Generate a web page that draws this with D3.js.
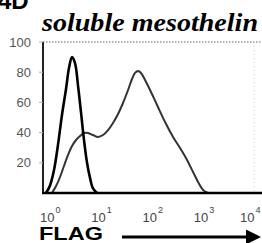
<!DOCTYPE html>
<html>
<head>
<meta charset="utf-8">
<script src="https://cdn.jsdelivr.net/npm/d3@7"></script>
<style>
  body { margin: 0; background: #fff; }
  svg { display: block; }
</style>
</head>
<body>
<div id="chart"></div>
<script>
// isotype control (black) - FL intensity and % of max
const isoX = [0.91, 1.09, 1.30, 1.56, 1.87, 2.24, 2.56, 2.93, 3.35, 3.84, 4.40, 5.02, 5.75, 6.58, 7.53, 9.02];
const isoY = [0, 5, 15, 32, 52, 69, 83, 90, 86, 71, 53, 35, 20, 10, 3, 0];

// soluble mesothelin (gray)
const mesoX = [1.19, 1.43, 1.71, 2.04, 2.45, 2.93, 3.51, 4.20, 5.02, 6.01, 7.53, 9.43, 11.8, 14.8, 18.5, 23.2,
  29.0, 36.4, 43.5, 49.8, 57.0, 65.2, 78.1, 97.8, 134, 192, 275, 377, 516, 676, 847, 1060, 1327];
const mesoY = [0, 4.6, 10.6, 17.9, 25.2, 31.1, 35.1, 37.7, 39.7, 39.7, 38.4, 37.1, 38.4, 41.7, 46.4, 52.3,
  59.6, 68.2, 75.5, 79.5, 80.8, 79.5, 74.8, 68.2, 58.3, 47.0, 37.1, 29.8, 21.9, 13.9, 7.3, 2.0, 0];

const yTicks = [20, 40, 60, 80, 100];
const xTicks = [0, 1, 2, 3, 4];

const width = 262, height = 243;
let plotL = 43, plotR = 254, plotT = 42, plotB = 193;

let svg = d3.select("#chart").append("svg")
    .attr("width", width)
    .attr("height", height);

let x = d3.scaleLog()
    .domain([Math.pow(10, -0.1), Math.pow(10, 4.02)])
    .range([plotL, plotR]);
let y = d3.scaleLinear()
    .domain([0, 100])
    .range([plotB, plotT]);

// panel letter, cut off at top like the scan
svg.append("text")
    .attr("x", -2).attr("y", 9)
    .style("font-family", "Liberation Sans, Arial, sans-serif")
    .style("font-weight", "bold")
    .style("font-size", "24px")
    .text("4D");

// title
svg.append("text")
    .attr("x", 42).attr("y", 31)
    .attr("textLength", 216)
    .attr("lengthAdjust", "spacingAndGlyphs")
    .style("font-family", "Liberation Serif, Times New Roman, serif")
    .style("font-style", "italic")
    .style("font-weight", "bold")
    .style("font-size", "25px")
    .text("soluble mesothelin");

// frame
svg.append("line")
    .attr("x1", plotL).attr("x2", width).attr("y1", plotT).attr("y2", plotT)
    .attr("stroke", "#666").attr("stroke-width", 1.2)
    .attr("stroke-dasharray", "1.5,1.5");
svg.append("line")
    .attr("x1", plotR).attr("x2", plotR).attr("y1", plotT).attr("y2", plotB)
    .attr("stroke", "#ccc").attr("stroke-width", 1)
    .attr("stroke-dasharray", "1,3");

// curves
let line = d3.line()
    .x(d => x(d[0]))
    .y(d => y(d[1]))
    .curve(d3.curveCatmullRom.alpha(0.5));

svg.append("path")
    .datum(mesoX.map((v, i) => [v, mesoY[i]]))
    .attr("d", line)
    .attr("fill", "none")
    .attr("stroke", "#333")
    .attr("stroke-width", 2);

svg.append("path")
    .datum(isoX.map((v, i) => [v, isoY[i]]))
    .attr("d", line)
    .attr("fill", "none")
    .attr("stroke", "#000")
    .attr("stroke-width", 2.6);

// axes
svg.append("line")
    .attr("x1", plotL).attr("x2", plotL).attr("y1", plotT).attr("y2", plotB)
    .attr("stroke", "#222").attr("stroke-width", 2);
svg.append("line")
    .attr("x1", plotL - 1).attr("x2", width).attr("y1", plotB).attr("y2", plotB)
    .attr("stroke", "#000").attr("stroke-width", 2.5);

// y tick labels
svg.selectAll(".ylab")
    .data(yTicks)
    .enter().append("text")
    .attr("class", "ylab")
    .attr("x", 31)
    .attr("y", d => y(d) + 4.5)
    .attr("text-anchor", "end")
    .style("font-family", "Liberation Sans, Arial, sans-serif")
    .style("font-size", "13px")
    .style("fill", "#555")
    .text(d => d);

svg.selectAll(".ytick")
    .data(yTicks)
    .enter().append("line")
    .attr("class", "ytick")
    .attr("x1", plotL - 4).attr("x2", plotL)
    .attr("y1", d => y(d)).attr("y2", d => y(d))
    .attr("stroke", "#aaa");

// x tick labels 10^n (last one nudged in so it stays on the page)
let xl = svg.selectAll(".xlab")
    .data(xTicks)
    .enter().append("text")
    .attr("class", "xlab")
    .attr("x", d => Math.min(x(Math.pow(10, d)) - 8, width - 22))
    .attr("y", 222)
    .style("font-family", "Liberation Sans, Arial, sans-serif")
    .style("font-size", "13px")
    .style("fill", "#444");
xl.append("tspan").text("10");
xl.append("tspan")
    .attr("dx", 1)
    .attr("dy", -9)
    .style("font-size", "9px")
    .text(d => d);

// axis title with arrow
svg.append("text")
    .attr("x", 39).attr("y", 240)
    .attr("textLength", 64)
    .attr("lengthAdjust", "spacingAndGlyphs")
    .style("font-family", "Liberation Sans, Arial, sans-serif")
    .style("font-weight", "bold")
    .style("font-size", "18px")
    .text("FLAG");

svg.append("defs").append("marker")
    .attr("id", "arr")
    .attr("viewBox", "0 0 10 10")
    .attr("refX", 8).attr("refY", 5)
    .attr("markerWidth", 5.5).attr("markerHeight", 5)
    .attr("orient", "auto")
    .append("path")
    .attr("d", "M0,0 L10,5 L0,10 z")
    .attr("fill", "#000");

svg.append("line")
    .attr("x1", 122).attr("x2", 258)
    .attr("y1", 237).attr("y2", 237)
    .attr("stroke", "#000").attr("stroke-width", 3)
    .attr("marker-end", "url(#arr)");
</script>
</body>
</html>
